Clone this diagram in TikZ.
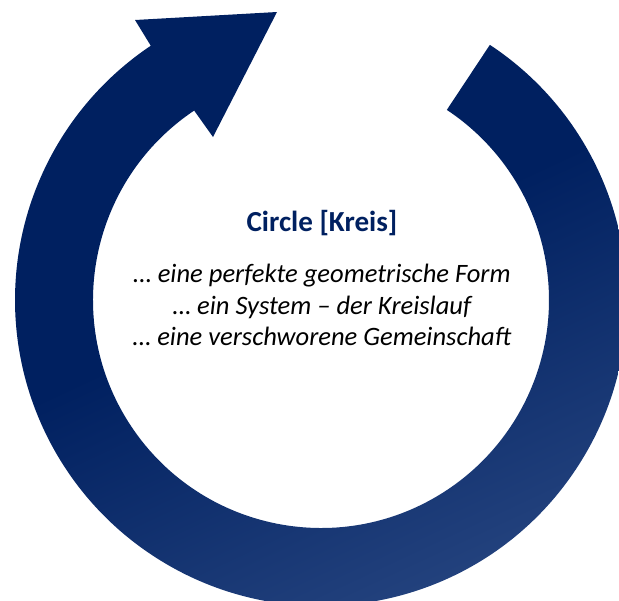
\documentclass[tikz,border=0pt]{standalone}
\usepackage{fontspec}
\setmainfont{Carlito}
\usetikzlibrary{calc}
\definecolor{kreisblau}{RGB}{0,32,96}
\definecolor{kreishell}{RGB}{62,92,148}
\pgfdeclarehorizontalshading{kreisverlauf}{100bp}{color(0bp)=(kreisblau); color(45bp)=(kreisblau); color(92bp)=(kreishell); color(100bp)=(kreishell)}

\begin{document}
\begin{tikzpicture}[x=0.75pt,y=0.75pt,yscale=-1,xscale=1]
\useasboundingbox (0,0) rectangle (619,601);
\coordinate (c) at (321,300);

%Shape: Circular Arrow
\shade [shading=kreisverlauf, shading angle=-65] ($(c)+(-56.5:306)$) arc[start angle=-56.5, end angle=236.2, radius=306] -- (135,20) -- (277,12) -- (213,137) -- ($(c)+(236.2:228)$) arc[start angle=236.2, end angle=-56.5, radius=228] -- cycle ;

% Text Node
\node (title) at (322,223) [text=kreisblau, font=\bfseries\fontsize{21.8}{26}\selectfont] {Circle [Kreis]};
% Text Node
\node (lines) at (322,305) [align=center, font=\itshape\fontsize{19.9}{23.6}\selectfont] {… eine perfekte geometrische Form\\… ein System – der Kreislauf\\… eine verschworene Gemeinschaft};

\end{tikzpicture}
\end{document}
